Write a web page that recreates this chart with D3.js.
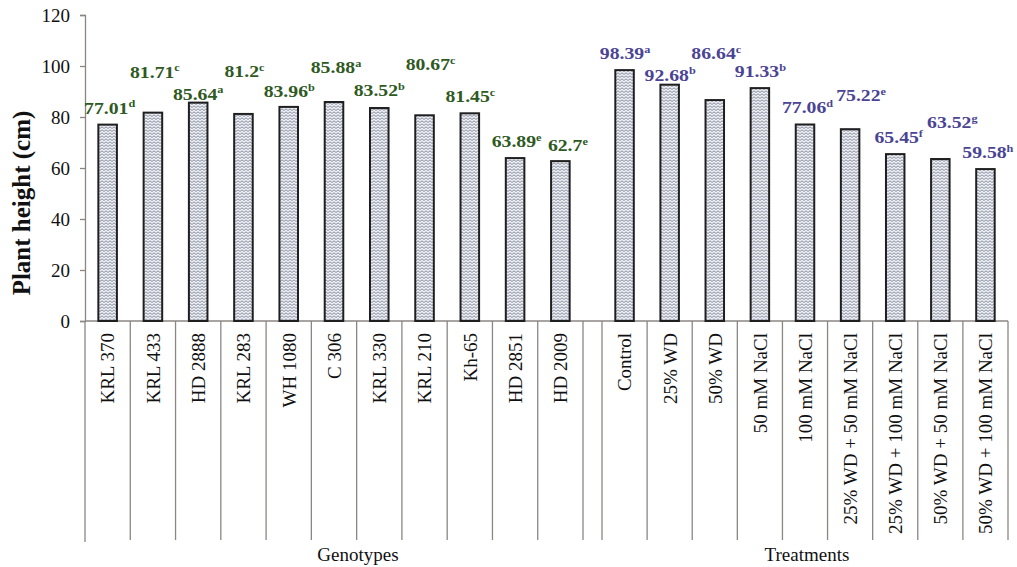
<!DOCTYPE html>
<html>
<head>
<meta charset="utf-8">
<script src="https://cdn.jsdelivr.net/npm/d3@7"></script>
<style>
  html, body { margin: 0; padding: 0; background: #fff; }
  svg { display: block; }
  text { font-family: "Liberation Serif", "Times New Roman", serif; }
</style>
</head>
<body>
<svg id="chart" width="1017" height="567"></svg>
<script>
// Plant height (cm) by genotype and by stress treatment
const genotypes = ["KRL 370", "KRL 433", "HD 2888", "KRL 283", "WH 1080", "C 306",
                   "KRL 330", "KRL 210", "Kh-65", "HD 2851", "HD 2009"];
const genotypeHeight = [77.01, 81.71, 85.64, 81.2, 83.96, 85.88, 83.52, 80.67, 81.45, 63.89, 62.7];
const genotypeGroup = ["d", "c", "a", "c", "b", "a", "b", "c", "c", "e", "e"];

const treatments = ["Control", "25% WD", "50% WD", "50 mM NaCl", "100 mM NaCl",
                    "25% WD + 50 mM NaCl", "25% WD + 100 mM NaCl",
                    "50% WD + 50 mM NaCl", "50% WD + 100 mM NaCl"];
const treatmentHeight = [98.39, 92.68, 86.64, 91.33, 77.06, 75.22, 65.45, 63.52, 59.58];
const treatmentGroup = ["a", "b", "c", "b", "d", "e", "f", "g", "h"];

const yTicks = [0, 20, 40, 60, 80, 100, 120];

// Hand placement of the value labels: [dx, dy] in px from bar centre / bar top
const genotypeLabelNudge = [[2, -11], [2, -35], [0, -3], [1, -37], [0.5, -10], [2, -29],
                            [0, -12], [6, -45], [0.5, -11], [1.5, -11], [7.5, -10]];
const treatmentLabelNudge = [[0.5, -11], [0.5, -4], [1.5, -41], [0.5, -11], [2.5, -11],
                             [11, -28], [3.5, -11], [12, -31], [2.4, -11]];

const svg = d3.select("#chart");

// Zigzag fill used for every bar
const defs = svg.append("defs");
const pat = defs.append("pattern")
  .attr("id", "zigzag").attr("patternUnits", "userSpaceOnUse")
  .attr("width", 4).attr("height", 3);
pat.append("rect").attr("width", 4).attr("height", 3).attr("fill", "#eef0f4");
pat.append("path").attr("d", "M0,2.5 L2,0.8 L4,2.5")
  .attr("fill", "none").attr("stroke", "#858c9e").attr("stroke-width", 1);

const plotTop = 15, base = 321, axisBottomEnd = 542;
const y = d3.scaleLinear().domain([0, 120]).range([base, plotTop]);

const xG = d3.scaleBand().domain(genotypes).range([85, 583])
  .paddingInner(0.59).paddingOuter(0.295);
const xT = d3.scaleBand().domain(treatments).range([602, 1008])
  .paddingInner(0.59).paddingOuter(0.295);

const axisColor = "#8b8682";

// Category separators running below the axis
function separators(scale) {
  const [r0] = scale.range();
  const n = scale.domain().length;
  return d3.range(n + 1).map(i => r0 + i * scale.step());
}
const sepX = separators(xG).concat(separators(xT));
svg.append("g").selectAll("line").data(sepX).join("line")
  .attr("x1", d => d).attr("x2", d => d)
  .attr("y1", base).attr("y2", (d, i) => i === 0 ? axisBottomEnd : axisBottomEnd - 2)
  .attr("stroke", axisColor).attr("stroke-width", 1.3);

// Horizontal category axis line
svg.append("line").attr("x1", 85).attr("x2", 1008).attr("y1", base).attr("y2", base)
  .attr("stroke", axisColor).attr("stroke-width", 1.3);

// Y axis
const yAxis = svg.append("g").attr("transform", "translate(85,0)")
  .call(d3.axisLeft(y).tickValues(yTicks).tickSize(5).tickPadding(10));
yAxis.select(".domain").attr("stroke", axisColor).attr("stroke-width", 1.3);
yAxis.selectAll(".tick line").attr("stroke", axisColor).attr("stroke-width", 1.3);
yAxis.selectAll(".tick text")
  .attr("font-family", "Liberation Serif, Times New Roman, serif")
  .attr("font-size", 19).attr("fill", "#111");

svg.append("text")
  .attr("transform", "translate(30,203) rotate(-90)")
  .attr("text-anchor", "middle")
  .attr("font-size", 25).attr("font-weight", "bold").attr("fill", "#111")
  .text("Plant height (cm)");

// Category tick labels (rotated)
function catLabels(scale) {
  const ax = svg.append("g").attr("transform", `translate(0,${base})`)
    .call(d3.axisBottom(scale).tickSize(0).tickPadding(0));
  ax.select(".domain").remove();
  ax.selectAll(".tick text")
    .attr("font-family", "Liberation Serif, Times New Roman, serif")
    .attr("font-size", 19).attr("fill", "#111")
    .attr("text-anchor", "end")
    .attr("transform", "rotate(-90)")
    .attr("x", -12).attr("y", 0).attr("dy", "0.36em");
}
catLabels(xG);
catLabels(xT);

// Group captions
svg.append("text").attr("x", 358).attr("y", 561).attr("text-anchor", "middle")
  .attr("font-size", 19).attr("fill", "#111").text("Genotypes");
svg.append("text").attr("x", 807).attr("y", 561).attr("text-anchor", "middle")
  .attr("font-size", 19).attr("fill", "#111").text("Treatments");

// Bars and value labels
function drawSeries(cats, values, letters, nudges, scale, color) {
  const rows = cats.map((c, i) => ({ c, v: values[i], s: letters[i], n: nudges[i] }));
  svg.append("g").selectAll("rect").data(rows).join("rect")
    .attr("x", d => scale(d.c)).attr("width", scale.bandwidth())
    .attr("y", d => y(d.v)).attr("height", d => base - y(d.v))
    .attr("fill", "url(#zigzag)").attr("stroke", "#1f1f1f").attr("stroke-width", 2);

  const lab = svg.append("g").selectAll("text").data(rows).join("text")
    .attr("transform", d =>
      `translate(${scale(d.c) + scale.bandwidth() / 2 + d.n[0]},${y(d.v) + d.n[1]}) scale(1.16,1)`)
    .attr("text-anchor", "middle")
    .attr("font-size", 17).attr("font-weight", "bold").attr("fill", color);
  lab.append("tspan").text(d => String(d.v));
  lab.append("tspan").attr("font-size", "0.62em").attr("dy", "-0.6em").text(d => d.s);
}
drawSeries(genotypes, genotypeHeight, genotypeGroup, genotypeLabelNudge, xG, "#2f5a1f");
drawSeries(treatments, treatmentHeight, treatmentGroup, treatmentLabelNudge, xT, "#4b4494");
</script>
</body>
</html>
